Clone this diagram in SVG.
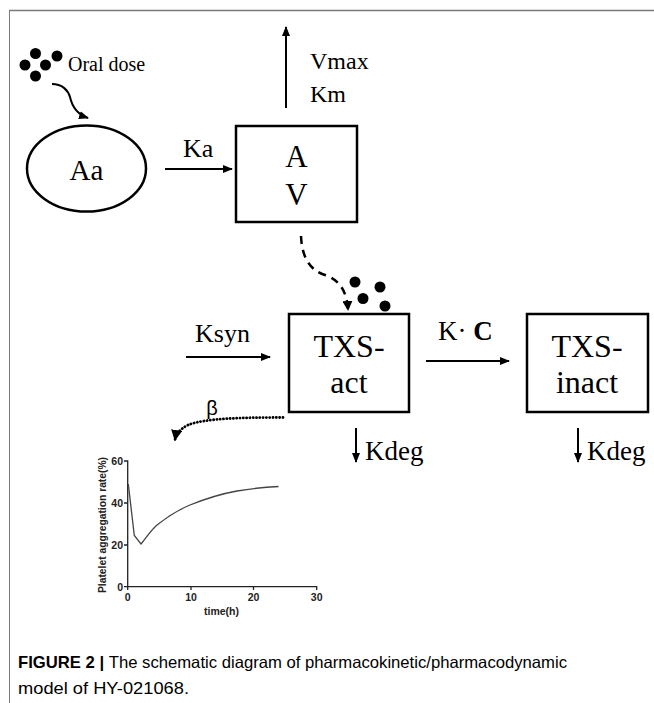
<svg xmlns="http://www.w3.org/2000/svg" width="654" height="703" viewBox="0 0 654 703">
<defs>
<style>
.serif{font-family:"Liberation Serif","Times New Roman",serif;fill:#000}
.sans{font-family:"Liberation Sans",Arial,sans-serif;fill:#000}
.box{fill:#fff;stroke:#000;stroke-width:2.5}
.ln{fill:none;stroke:#000;stroke-width:2}
.ax{fill:none;stroke:#222;stroke-width:1.3}
.tk{font-family:"Liberation Sans",Arial,sans-serif;font-weight:bold;font-size:10.5px;fill:#222}
.dot{fill:#000}
</style>
<marker id="ah" viewBox="0 0 10 10" refX="9" refY="5" markerWidth="5" markerHeight="5" orient="auto" markerUnits="strokeWidth">
<path d="M0,1 L10,5 L0,9 Z" fill="#000"/>
</marker>
<marker id="ahs" viewBox="0 0 10 10" refX="9" refY="5" markerWidth="4" markerHeight="4" orient="auto" markerUnits="strokeWidth">
<path d="M0,0 L10,5 L0,10 Z" fill="#000"/>
</marker>
</defs>
<rect width="654" height="703" fill="#fff"/>
<line x1="9" y1="10.5" x2="654" y2="10.5" stroke="#7a7a7a" stroke-width="1.5"/>
<line x1="9.5" y1="10" x2="9.5" y2="703" stroke="#7a7a7a" stroke-width="1"/>

<g id="oral-dose">
<circle class="dot" cx="35.5" cy="53.5" r="5.5"/>
<circle class="dot" cx="57" cy="56" r="5.5"/>
<circle class="dot" cx="25" cy="65" r="5.5"/>
<circle class="dot" cx="45.5" cy="65" r="5.5"/>
<circle class="dot" cx="35.5" cy="76" r="5.5"/>
<text class="serif" x="68" y="71" font-size="20">Oral dose</text>
</g>

<g id="Aa">
<ellipse cx="86.5" cy="168.5" rx="59.5" ry="43" fill="#fff" stroke="#000" stroke-width="2.5"/>
<text class="serif" x="86.5" y="180" font-size="29" text-anchor="middle">Aa</text>
</g>

<g id="AV">
<rect class="box" x="236" y="126" width="121" height="96"/>
<text class="serif" x="296.5" y="167" font-size="31" text-anchor="middle">A</text>
<text class="serif" x="296.5" y="205" font-size="31" text-anchor="middle">V</text>
</g>

<g id="TXS-act">
<rect class="box" x="289" y="314" width="120" height="98"/>
<text class="serif" x="349" y="357" font-size="32" text-anchor="middle">TXS-</text>
<text class="serif" x="349" y="393" font-size="32" text-anchor="middle">act</text>
</g>

<g id="TXS-inact">
<rect class="box" x="527" y="314" width="121" height="98"/>
<text class="serif" x="587" y="357" font-size="32" text-anchor="middle">TXS-</text>
<text class="serif" x="587" y="393" font-size="32" text-anchor="middle">inact</text>
</g>

<g id="drug-dots">
<circle class="dot" cx="355" cy="282" r="5.5"/>
<circle class="dot" cx="380" cy="287" r="5.5"/>
<circle class="dot" cx="363" cy="298.5" r="5.5"/>
<circle class="dot" cx="385" cy="306" r="5.5"/>
</g>

<g id="connectors">
<path class="ln" d="M52,84 C62,84 68,90 70,97 C72,106 76,114 88,118" marker-end="url(#ah)"/>
<line class="ln" x1="165" y1="169" x2="232" y2="169" marker-end="url(#ah)"/>
<line class="ln" x1="286" y1="108" x2="286" y2="27" marker-end="url(#ah)"/>
<path d="M301,236 C302,258 310,270 325,275 C340,280 347,292 348,310" fill="none" stroke="#000" stroke-width="2.5" stroke-dasharray="8,6" marker-end="url(#ahs)"/>
<line class="ln" x1="186" y1="357" x2="270" y2="357" marker-end="url(#ah)"/>
<line class="ln" x1="426" y1="361" x2="509" y2="361" marker-end="url(#ah)"/>
<line class="ln" x1="356" y1="428" x2="356" y2="462" marker-end="url(#ah)"/>
<line class="ln" x1="578" y1="428" x2="578" y2="462" marker-end="url(#ah)"/>
<path d="M283,417.5 C245,417.5 205,418 188,425 C180,429 176,434 175,440" fill="none" stroke="#000" stroke-width="2.8" stroke-dasharray="0.1,3.2" stroke-linecap="round" marker-end="url(#ahs)"/>
</g>

<g id="labels">
<text class="serif" x="310" y="69" font-size="24">Vmax</text>
<text class="serif" x="310" y="102" font-size="24">Km</text>
<text class="serif" x="183" y="157" font-size="26">Ka</text>
<text class="serif" x="195" y="342" font-size="26">Ksyn</text>
<text class="serif" x="438" y="340" font-size="27">K· <tspan font-weight="bold">C</tspan></text>
<text class="serif" x="365" y="460" font-size="27">Kdeg</text>
<text class="serif" x="587" y="460" font-size="27">Kdeg</text>
<text class="sans" x="212" y="415" font-size="20" text-anchor="middle">β</text>
</g>

<g id="chart">
<polyline class="ax" points="124,461 127.7,461 127.7,586.7 316.7,586.7 316.7,590"/>
<path class="ax" d="M124,503 H127.7 M124,545 H127.7 M124,586.7 H127.7 M127.7,586.7 V590 M191,586.7 V590 M253.5,586.7 V590"/>
<text class="tk" x="123" y="465" text-anchor="end">60</text>
<text class="tk" x="123" y="507" text-anchor="end">40</text>
<text class="tk" x="123" y="549" text-anchor="end">20</text>
<text class="tk" x="123" y="590.5" text-anchor="end">0</text>
<text class="tk" x="127.7" y="601" text-anchor="middle">0</text>
<text class="tk" x="191" y="601" text-anchor="middle">10</text>
<text class="tk" x="253.5" y="601" text-anchor="middle">20</text>
<text class="tk" x="316.7" y="601" text-anchor="middle">30</text>
<text class="tk" x="221.5" y="614.5" text-anchor="middle">time(h)</text>
<text class="tk" transform="translate(106,525) rotate(-90)" text-anchor="middle" font-size="11" textLength="136" lengthAdjust="spacingAndGlyphs">Platelet aggregation rate(%)</text>
<path d="M128.3,484 L134.3,535.5 L141,544 C147,537 151,530 157,525 C167,517 178,510 190,505 C205,499 220,494 237,491 C255,488 265,487 278.5,486.5" fill="none" stroke="#444" stroke-width="1.3"/>
</g>

<g id="caption">
<text class="sans" x="18" y="668" font-size="16.5" textLength="549" lengthAdjust="spacingAndGlyphs"><tspan font-weight="bold">FIGURE 2 | </tspan>The schematic diagram of pharmacokinetic/pharmacodynamic</text>
<text class="sans" x="18" y="694" font-size="16.5" textLength="171" lengthAdjust="spacingAndGlyphs">model of HY-021068.</text>
</g>
</svg>
